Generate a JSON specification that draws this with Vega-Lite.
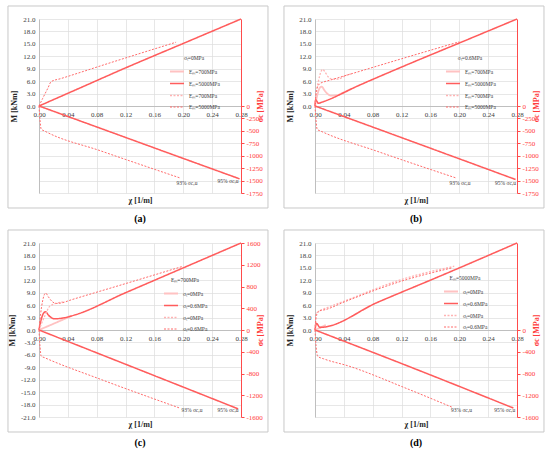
{
  "$schema": "https://vega.github.io/schema/vega-lite/v6.json",
  "background": "white",
  "padding": {"left": 7, "top": 5, "right": 0, "bottom": 0},
  "config": {
    "font": "Liberation Serif",
    "view": {"stroke": null},
    "line": {"interpolate": "monotone"},
    "axis": {"labelFont": "Liberation Serif", "titleFont": "Liberation Serif", "labelFontSize": 7, "titleFontSize": 8, "labelColor": "#404040", "titleColor": "#262626", "gridColor": "#dcdcdc", "gridWidth": 0.7, "domainColor": "#bfbfbf", "labelOverlap": false, "labelFlush": false, "tickCount": 60},
    "legend": {"orient": "none", "symbolType": "stroke", "symbolSize": 196, "labelFontSize": 5.5, "titleFontSize": 5.5, "titleFontWeight": "normal", "labelColor": "#404040", "titleColor": "#404040", "rowPadding": -4, "titlePadding": 2, "labelOffset": 4, "titleAnchor": "middle"},
    "title": {"font": "Liberation Serif", "fontSize": 10, "fontWeight": "bold", "color": "#000000", "orient": "bottom", "offset": 6}
  },
  "columns": 2,
  "spacing": {"row": 4, "column": 14},
  "resolve": {"scale": {"color": "independent", "strokeDash": "independent", "strokeWidth": "independent"}, "legend": {"color": "independent", "strokeDash": "independent", "strokeWidth": "independent"}},
  "concat": [
    {
      "width": 202, "height": 174,
      "title": {"text": "(a)"},
      "data": {"values": [
        {"k": "M", "s": "2", "x": 0, "v": 0}, {"k": "M", "s": "2", "x": 0.06, "v": 4.6}, {"k": "M", "s": "2", "x": 0.12, "v": 9.2}, {"k": "M", "s": "2", "x": 0.2, "v": 15.1}, {"k": "M", "s": "2", "x": 0.28, "v": 21},
        {"k": "M", "s": "4", "x": 0, "v": 0}, {"k": "M", "s": "4", "x": 0.005, "v": 1.8}, {"k": "M", "s": "4", "x": 0.012, "v": 4.2}, {"k": "M", "s": "4", "x": 0.017, "v": 5.9}, {"k": "M", "s": "4", "x": 0.03, "v": 6.6}, {"k": "M", "s": "4", "x": 0.1, "v": 10.5}, {"k": "M", "s": "4", "x": 0.19, "v": 15.4},
        {"k": "S", "s": "2", "x": 0, "v": 0}, {"k": "S", "s": "2", "x": 0.1, "v": -527}, {"k": "S", "s": "2", "x": 0.2, "v": -1055}, {"k": "S", "s": "2", "x": 0.278, "v": -1465},
        {"k": "S", "s": "4", "x": 0, "v": 0}, {"k": "S", "s": "4", "x": 0.0015, "v": -300}, {"k": "S", "s": "4", "x": 0.003, "v": -465}, {"k": "S", "s": "4", "x": 0.008, "v": -505}, {"k": "S", "s": "4", "x": 0.086, "v": -905}, {"k": "S", "s": "4", "x": 0.195, "v": -1445},
        {"k": "T", "x": 0.205, "v": -1545, "t": "93% σc,u"}, {"k": "T", "x": 0.262, "v": -1500, "t": "95% σc,u"}
      ]},
      "layer": [
        {
          "layer": [
            {
              "data": {"values": [{}]},
              "mark": {"type": "rect", "fill": null, "stroke": "#c8c8c8", "strokeWidth": 1},
              "encoding": {
                "x": {"datum": -0.043, "type": "quantitative", "title": "χ [1/m]"}, "x2": {"datum": 0.3174},
                "y": {"datum": 24.14, "type": "quantitative", "title": "M [kNm]"}, "y2": {"datum": -24.62}
              }
            },
            {
              "transform": [{"filter": "datum.k == 'M'"}],
              "mark": "line",
              "encoding": {
                "x": {"field": "x", "type": "quantitative", "scale": {"domain": [0, 0.28], "nice": false, "zero": false}, "axis": {"values": [0, 0.04, 0.08, 0.12, 0.16, 0.2, 0.24, 0.28], "tickCount": 60, "format": ".2f", "labelOverlap": false, "labelFlush": false, "offset": -87, "grid": true, "ticks": false, "labelPadding": 4, "title": "χ [1/m]", "titleFontWeight": "bold", "titleY": 90}},
                "y": {"field": "v", "type": "quantitative", "scale": {"domain": [-21, 21], "nice": false, "zero": false}, "axis": {"orient": "left", "values": [-21, -18, -15, -12, -9, -6, -3, 0, 3, 6, 9, 12, 15, 18, 21], "tickCount": 60, "labelExpr": "datum.value < 0 ? '' : format(datum.value, '.1f')", "labelOverlap": false, "grid": true, "ticks": false, "labelPadding": 4, "title": "M [kNm]", "titleFontWeight": "bold", "titlePadding": 4}},
                "color": {"field": "s", "type": "nominal", "scale": {"domain": ["1", "2", "3", "4"], "range": ["#ffc2c2", "#ff5c5c", "#ffb3b3", "#ff6b6b"]}, "legend": {"title": "σₜ=0MPa", "legendX": 130, "legendY": 37, "labelExpr": "datum.value == '1' || datum.value == '3' ? 'Eₘ=700MPa' : 'Eₘ=5000MPa'"}},
                "strokeDash": {"field": "s", "type": "nominal", "scale": {"domain": ["1", "2", "3", "4"], "range": [[1, 0], [1, 0], [2, 1.5], [2, 1.5]]}},
                "strokeWidth": {"field": "s", "type": "nominal", "scale": {"domain": ["1", "2", "3", "4"], "range": [1.8, 1, 0.8, 1]}}
              }
            }
          ]
        },
        {
          "layer": [
            {
              "transform": [{"filter": "datum.k == 'S'"}],
              "mark": "line",
              "encoding": {
                "x": {"field": "x", "type": "quantitative", "title": "χ [1/m]"},
                "y": {"field": "v", "type": "quantitative", "scale": {"domain": [-1750, 1750], "nice": false, "zero": false}, "axis": {"orient": "right", "values": [-1750, -1500, -1250, -1000, -750, -500, -250, 0], "tickCount": 60, "labelExpr": "replace(format(datum.value, 'd'), '−', '-')", "labelOverlap": false, "grid": false, "domainColor": "#ff4b4b", "tickColor": "#ff4b4b", "tickSize": 3, "labelColor": "#ff3b3b", "labelPadding": 2, "title": "σc [MPa]", "titleColor": "#ff3b3b", "titleFontWeight": "bold", "titleAngle": 270, "titlePadding": 2}},
                "color": {"field": "s", "type": "nominal", "scale": {"domain": ["1", "2", "3", "4"], "range": ["#ffc2c2", "#ff5c5c", "#ffb3b3", "#ff6b6b"]}},
                "strokeDash": {"field": "s", "type": "nominal", "scale": {"domain": ["1", "2", "3", "4"], "range": [[1, 0], [1, 0], [2, 1.5], [2, 1.5]]}},
                "strokeWidth": {"field": "s", "type": "nominal", "scale": {"domain": ["1", "2", "3", "4"], "range": [1.8, 1, 0.8, 1]}}
              }
            },
            {
              "transform": [{"filter": "datum.k == 'T'"}],
              "mark": {"type": "text", "fontSize": 5.5, "color": "#404040", "align": "center", "baseline": "middle"},
              "encoding": {
                "x": {"field": "x", "type": "quantitative", "title": "χ [1/m]"},
                "y": {"field": "v", "type": "quantitative", "title": "σc [MPa]"},
                "text": {"field": "t"}
              }
            }
          ]
        }
      ],
      "resolve": {"scale": {"y": "independent"}}
    },
    {
      "width": 202, "height": 174,
      "title": {"text": "(b)"},
      "data": {"values": [
        {"k": "M", "s": "1", "x": 0, "v": 0}, {"k": "M", "s": "1", "x": 0.003, "v": 2.5}, {"k": "M", "s": "1", "x": 0.006, "v": 4.2}, {"k": "M", "s": "1", "x": 0.0093, "v": 4.7}, {"k": "M", "s": "1", "x": 0.013, "v": 3.8}, {"k": "M", "s": "1", "x": 0.017, "v": 3.0}, {"k": "M", "s": "1", "x": 0.022, "v": 2.5}, {"k": "M", "s": "1", "x": 0.03, "v": 2.6}, {"k": "M", "s": "1", "x": 0.04, "v": 3.3}, {"k": "M", "s": "1", "x": 0.05, "v": 4.1},
        {"k": "M", "s": "2", "x": 0, "v": 0}, {"k": "M", "s": "2", "x": 0.001, "v": 1.5}, {"k": "M", "s": "2", "x": 0.0025, "v": 1.2}, {"k": "M", "s": "2", "x": 0.0046, "v": 0.65}, {"k": "M", "s": "2", "x": 0.01, "v": 0.95}, {"k": "M", "s": "2", "x": 0.06, "v": 4.9}, {"k": "M", "s": "2", "x": 0.12, "v": 9.4}, {"k": "M", "s": "2", "x": 0.2, "v": 15.2}, {"k": "M", "s": "2", "x": 0.28, "v": 21},
        {"k": "M", "s": "3", "x": 0, "v": 0}, {"k": "M", "s": "3", "x": 0.002, "v": 3.2}, {"k": "M", "s": "3", "x": 0.005, "v": 6.2}, {"k": "M", "s": "3", "x": 0.0105, "v": 8.8}, {"k": "M", "s": "3", "x": 0.014, "v": 8.2}, {"k": "M", "s": "3", "x": 0.018, "v": 7.1}, {"k": "M", "s": "3", "x": 0.024, "v": 6.5}, {"k": "M", "s": "3", "x": 0.032, "v": 6.5}, {"k": "M", "s": "3", "x": 0.042, "v": 7.3}, {"k": "M", "s": "3", "x": 0.05, "v": 7.75},
        {"k": "M", "s": "4", "x": 0, "v": 0}, {"k": "M", "s": "4", "x": 0.002, "v": 3.8}, {"k": "M", "s": "4", "x": 0.006, "v": 5.3}, {"k": "M", "s": "4", "x": 0.012, "v": 5.8}, {"k": "M", "s": "4", "x": 0.02, "v": 6.2}, {"k": "M", "s": "4", "x": 0.05, "v": 7.75}, {"k": "M", "s": "4", "x": 0.12, "v": 11.4}, {"k": "M", "s": "4", "x": 0.2, "v": 15.5},
        {"k": "S", "s": "2", "x": 0, "v": 0}, {"k": "S", "s": "2", "x": 0.1, "v": -530}, {"k": "S", "s": "2", "x": 0.2, "v": -1062}, {"k": "S", "s": "2", "x": 0.278, "v": -1478},
        {"k": "S", "s": "4", "x": 0, "v": 0}, {"k": "S", "s": "4", "x": 0.0015, "v": -300}, {"k": "S", "s": "4", "x": 0.003, "v": -470}, {"k": "S", "s": "4", "x": 0.008, "v": -505}, {"k": "S", "s": "4", "x": 0.086, "v": -910}, {"k": "S", "s": "4", "x": 0.196, "v": -1450},
        {"k": "T", "x": 0.201, "v": -1545, "t": "93% σc,u"}, {"k": "T", "x": 0.264, "v": -1555, "t": "95% σc,u"}
      ]},
      "layer": [
        {
          "layer": [
            {
              "data": {"values": [{}]},
              "mark": {"type": "rect", "fill": null, "stroke": "#c8c8c8", "strokeWidth": 1},
              "encoding": {
                "x": {"datum": -0.043, "type": "quantitative", "title": "χ [1/m]"}, "x2": {"datum": 0.3174},
                "y": {"datum": 24.14, "type": "quantitative", "title": "M [kNm]"}, "y2": {"datum": -24.62}
              }
            },
            {
              "transform": [{"filter": "datum.k == 'M'"}],
              "mark": "line",
              "encoding": {
                "x": {"field": "x", "type": "quantitative", "scale": {"domain": [0, 0.28], "nice": false, "zero": false}, "axis": {"values": [0, 0.04, 0.08, 0.12, 0.16, 0.2, 0.24, 0.28], "tickCount": 60, "format": ".2f", "labelOverlap": false, "labelFlush": false, "offset": -87, "grid": true, "ticks": false, "labelPadding": 4, "title": "χ [1/m]", "titleFontWeight": "bold", "titleY": 90}},
                "y": {"field": "v", "type": "quantitative", "scale": {"domain": [-21, 21], "nice": false, "zero": false}, "axis": {"orient": "left", "values": [-21, -18, -15, -12, -9, -6, -3, 0, 3, 6, 9, 12, 15, 18, 21], "tickCount": 60, "labelExpr": "datum.value < 0 ? '' : format(datum.value, '.1f')", "labelOverlap": false, "grid": true, "ticks": false, "labelPadding": 4, "title": "M [kNm]", "titleFontWeight": "bold", "titlePadding": 4}},
                "color": {"field": "s", "type": "nominal", "scale": {"domain": ["1", "2", "3", "4"], "range": ["#ffc2c2", "#ff5c5c", "#ffb3b3", "#ff6b6b"]}, "legend": {"title": "σₜ=0.6MPa", "legendX": 130, "legendY": 37, "labelExpr": "datum.value == '1' || datum.value == '3' ? 'Eₘ=700MPa' : 'Eₘ=5000MPa'"}},
                "strokeDash": {"field": "s", "type": "nominal", "scale": {"domain": ["1", "2", "3", "4"], "range": [[1, 0], [1, 0], [2, 1.5], [2, 1.5]]}},
                "strokeWidth": {"field": "s", "type": "nominal", "scale": {"domain": ["1", "2", "3", "4"], "range": [1.8, 1, 0.8, 1]}}
              }
            }
          ]
        },
        {
          "layer": [
            {
              "transform": [{"filter": "datum.k == 'S'"}],
              "mark": "line",
              "encoding": {
                "x": {"field": "x", "type": "quantitative", "title": "χ [1/m]"},
                "y": {"field": "v", "type": "quantitative", "scale": {"domain": [-1750, 1750], "nice": false, "zero": false}, "axis": {"orient": "right", "values": [-1750, -1500, -1250, -1000, -750, -500, -250, 0], "tickCount": 60, "labelExpr": "replace(format(datum.value, 'd'), '−', '-')", "labelOverlap": false, "grid": false, "domainColor": "#ff4b4b", "tickColor": "#ff4b4b", "tickSize": 3, "labelColor": "#ff3b3b", "labelPadding": 2, "title": "σc [MPa]", "titleColor": "#ff3b3b", "titleFontWeight": "bold", "titleAngle": 270, "titlePadding": 2}},
                "color": {"field": "s", "type": "nominal", "scale": {"domain": ["1", "2", "3", "4"], "range": ["#ffc2c2", "#ff5c5c", "#ffb3b3", "#ff6b6b"]}},
                "strokeDash": {"field": "s", "type": "nominal", "scale": {"domain": ["1", "2", "3", "4"], "range": [[1, 0], [1, 0], [2, 1.5], [2, 1.5]]}},
                "strokeWidth": {"field": "s", "type": "nominal", "scale": {"domain": ["1", "2", "3", "4"], "range": [1.8, 1, 0.8, 1]}}
              }
            },
            {
              "transform": [{"filter": "datum.k == 'T'"}],
              "mark": {"type": "text", "fontSize": 5.5, "color": "#404040", "align": "center", "baseline": "middle"},
              "encoding": {
                "x": {"field": "x", "type": "quantitative", "title": "χ [1/m]"},
                "y": {"field": "v", "type": "quantitative", "title": "σc [MPa]"},
                "text": {"field": "t"}
              }
            }
          ]
        }
      ],
      "resolve": {"scale": {"y": "independent"}}
    },
    {
      "width": 202, "height": 174,
      "title": {"text": "(c)"},
      "data": {"values": [
        {"k": "M", "s": "1", "x": 0, "v": 0}, {"k": "M", "s": "1", "x": 0.02, "v": 1.5}, {"k": "M", "s": "1", "x": 0.045, "v": 3.4},
        {"k": "M", "s": "2", "x": 0, "v": 0}, {"k": "M", "s": "2", "x": 0.003, "v": 2.5}, {"k": "M", "s": "2", "x": 0.0065, "v": 4.1}, {"k": "M", "s": "2", "x": 0.0092, "v": 4.4}, {"k": "M", "s": "2", "x": 0.013, "v": 3.6}, {"k": "M", "s": "2", "x": 0.017, "v": 3.0}, {"k": "M", "s": "2", "x": 0.021, "v": 2.7}, {"k": "M", "s": "2", "x": 0.03, "v": 2.8}, {"k": "M", "s": "2", "x": 0.045, "v": 3.4}, {"k": "M", "s": "2", "x": 0.12, "v": 9.0}, {"k": "M", "s": "2", "x": 0.2, "v": 15.0}, {"k": "M", "s": "2", "x": 0.28, "v": 21},
        {"k": "M", "s": "3", "x": 0, "v": 0}, {"k": "M", "s": "3", "x": 0.008, "v": 3.4}, {"k": "M", "s": "3", "x": 0.016, "v": 5.9}, {"k": "M", "s": "3", "x": 0.035, "v": 6.8},
        {"k": "M", "s": "4", "x": 0, "v": 0}, {"k": "M", "s": "4", "x": 0.002, "v": 3.5}, {"k": "M", "s": "4", "x": 0.005, "v": 7.0}, {"k": "M", "s": "4", "x": 0.0092, "v": 8.9}, {"k": "M", "s": "4", "x": 0.013, "v": 8.0}, {"k": "M", "s": "4", "x": 0.018, "v": 6.9}, {"k": "M", "s": "4", "x": 0.024, "v": 6.4}, {"k": "M", "s": "4", "x": 0.03, "v": 6.5}, {"k": "M", "s": "4", "x": 0.045, "v": 7.3}, {"k": "M", "s": "4", "x": 0.12, "v": 11.2}, {"k": "M", "s": "4", "x": 0.198, "v": 15.3},
        {"k": "S", "s": "2", "x": 0, "v": 0}, {"k": "S", "s": "2", "x": 0.1, "v": -525}, {"k": "S", "s": "2", "x": 0.2, "v": -1050}, {"k": "S", "s": "2", "x": 0.276, "v": -1450},
        {"k": "S", "s": "4", "x": 0, "v": 0}, {"k": "S", "s": "4", "x": 0.0015, "v": -320}, {"k": "S", "s": "4", "x": 0.003, "v": -480}, {"k": "S", "s": "4", "x": 0.008, "v": -510}, {"k": "S", "s": "4", "x": 0.086, "v": -910}, {"k": "S", "s": "4", "x": 0.196, "v": -1440},
        {"k": "T", "x": 0.212, "v": -1480, "t": "93% σc,u"}, {"k": "T", "x": 0.262, "v": -1468, "t": "95% σc,u"}
      ]},
      "layer": [
        {
          "layer": [
            {
              "data": {"values": [{}]},
              "mark": {"type": "rect", "fill": null, "stroke": "#c8c8c8", "strokeWidth": 1},
              "encoding": {
                "x": {"datum": -0.043, "type": "quantitative", "title": "χ [1/m]"}, "x2": {"datum": 0.3174},
                "y": {"datum": 24.14, "type": "quantitative", "title": "M [kNm]"}, "y2": {"datum": -24.62}
              }
            },
            {
              "transform": [{"filter": "datum.k == 'M'"}],
              "mark": "line",
              "encoding": {
                "x": {"field": "x", "type": "quantitative", "scale": {"domain": [0, 0.28], "nice": false, "zero": false}, "axis": {"values": [0, 0.04, 0.08, 0.12, 0.16, 0.2, 0.24, 0.28], "tickCount": 60, "format": ".2f", "labelOverlap": false, "labelFlush": false, "offset": -87, "grid": true, "ticks": false, "labelPadding": 4, "title": "χ [1/m]", "titleFontWeight": "bold", "titleY": 90}},
                "y": {"field": "v", "type": "quantitative", "scale": {"domain": [-21, 21], "nice": false, "zero": false}, "axis": {"orient": "left", "values": [-21, -18, -15, -12, -9, -6, -3, 0, 3, 6, 9, 12, 15, 18, 21], "tickCount": 60, "labelExpr": "replace(format(datum.value, '.1f'), '−', '-')", "labelOverlap": false, "grid": true, "ticks": false, "labelPadding": 4, "title": "M [kNm]", "titleFontWeight": "bold", "titlePadding": 4}},
                "color": {"field": "s", "type": "nominal", "scale": {"domain": ["1", "2", "3", "4"], "range": ["#ffc2c2", "#ff5c5c", "#ffb3b3", "#ff6b6b"]}, "legend": {"title": "Eₘ=700MPa", "legendX": 124, "legendY": 35, "labelExpr": "datum.value == '1' || datum.value == '3' ? 'σₜ=0MPa' : 'σₜ=0.6MPa'"}},
                "strokeDash": {"field": "s", "type": "nominal", "scale": {"domain": ["1", "2", "3", "4"], "range": [[1, 0], [1, 0], [2, 1.5], [2, 1.5]]}},
                "strokeWidth": {"field": "s", "type": "nominal", "scale": {"domain": ["1", "2", "3", "4"], "range": [1.8, 1, 0.8, 1]}}
              }
            }
          ]
        },
        {
          "layer": [
            {
              "transform": [{"filter": "datum.k == 'S'"}],
              "mark": "line",
              "encoding": {
                "x": {"field": "x", "type": "quantitative", "title": "χ [1/m]"},
                "y": {"field": "v", "type": "quantitative", "scale": {"domain": [-1600, 1600], "nice": false, "zero": false}, "axis": {"orient": "right", "values": [-1600, -1200, -800, -400, 0, 400, 800, 1200, 1600], "tickCount": 60, "labelExpr": "replace(format(datum.value, 'd'), '−', '-')", "labelOverlap": false, "grid": false, "domainColor": "#ff4b4b", "tickColor": "#ff4b4b", "tickSize": 3, "labelColor": "#ff3b3b", "labelPadding": 2, "title": "σc [MPa]", "titleColor": "#ff3b3b", "titleFontWeight": "bold", "titleAngle": 270, "titlePadding": 2}},
                "color": {"field": "s", "type": "nominal", "scale": {"domain": ["1", "2", "3", "4"], "range": ["#ffc2c2", "#ff5c5c", "#ffb3b3", "#ff6b6b"]}},
                "strokeDash": {"field": "s", "type": "nominal", "scale": {"domain": ["1", "2", "3", "4"], "range": [[1, 0], [1, 0], [2, 1.5], [2, 1.5]]}},
                "strokeWidth": {"field": "s", "type": "nominal", "scale": {"domain": ["1", "2", "3", "4"], "range": [1.8, 1, 0.8, 1]}}
              }
            },
            {
              "transform": [{"filter": "datum.k == 'T'"}],
              "mark": {"type": "text", "fontSize": 5.5, "color": "#404040", "align": "center", "baseline": "middle"},
              "encoding": {
                "x": {"field": "x", "type": "quantitative", "title": "χ [1/m]"},
                "y": {"field": "v", "type": "quantitative", "title": "σc [MPa]"},
                "text": {"field": "t"}
              }
            }
          ]
        }
      ],
      "resolve": {"scale": {"y": "independent"}}
    },
    {
      "width": 202, "height": 174,
      "title": {"text": "(d)"},
      "data": {"values": [
        {"k": "M", "s": "1", "x": 0, "v": 0}, {"k": "M", "s": "1", "x": 0.015, "v": 1.2},
        {"k": "M", "s": "2", "x": 0, "v": 0}, {"k": "M", "s": "2", "x": 0.002, "v": 1.6}, {"k": "M", "s": "2", "x": 0.0069, "v": 0.63}, {"k": "M", "s": "2", "x": 0.087, "v": 6.7}, {"k": "M", "s": "2", "x": 0.18, "v": 13.5}, {"k": "M", "s": "2", "x": 0.28, "v": 21},
        {"k": "M", "s": "3", "x": 0, "v": 0}, {"k": "M", "s": "3", "x": 0.002, "v": 3.5}, {"k": "M", "s": "3", "x": 0.006, "v": 4.6}, {"k": "M", "s": "3", "x": 0.014, "v": 5.2}, {"k": "M", "s": "3", "x": 0.041, "v": 7.0}, {"k": "M", "s": "3", "x": 0.12, "v": 12.2}, {"k": "M", "s": "3", "x": 0.193, "v": 15.4},
        {"k": "M", "s": "4", "x": 0, "v": 0}, {"k": "M", "s": "4", "x": 0.002, "v": 4.0}, {"k": "M", "s": "4", "x": 0.006, "v": 4.6}, {"k": "M", "s": "4", "x": 0.014, "v": 4.9}, {"k": "M", "s": "4", "x": 0.041, "v": 6.8}, {"k": "M", "s": "4", "x": 0.12, "v": 11.8}, {"k": "M", "s": "4", "x": 0.19, "v": 15.0},
        {"k": "S", "s": "2", "x": 0, "v": 0}, {"k": "S", "s": "2", "x": 0.124, "v": -638}, {"k": "S", "s": "2", "x": 0.275, "v": -1435},
        {"k": "S", "s": "4", "x": 0, "v": 0}, {"k": "S", "s": "4", "x": 0.0015, "v": -300}, {"k": "S", "s": "4", "x": 0.004, "v": -487}, {"k": "S", "s": "4", "x": 0.012, "v": -530}, {"k": "S", "s": "4", "x": 0.046, "v": -660}, {"k": "S", "s": "4", "x": 0.124, "v": -1060}, {"k": "S", "s": "4", "x": 0.19, "v": -1420},
        {"k": "T", "x": 0.203, "v": -1480, "t": "93% σc,u"}, {"k": "T", "x": 0.263, "v": -1470, "t": "95% σc,u"}
      ]},
      "layer": [
        {
          "layer": [
            {
              "data": {"values": [{}]},
              "mark": {"type": "rect", "fill": null, "stroke": "#c8c8c8", "strokeWidth": 1},
              "encoding": {
                "x": {"datum": -0.043, "type": "quantitative", "title": "χ [1/m]"}, "x2": {"datum": 0.3174},
                "y": {"datum": 24.14, "type": "quantitative", "title": "M [kNm]"}, "y2": {"datum": -24.62}
              }
            },
            {
              "transform": [{"filter": "datum.k == 'M'"}],
              "mark": "line",
              "encoding": {
                "x": {"field": "x", "type": "quantitative", "scale": {"domain": [0, 0.28], "nice": false, "zero": false}, "axis": {"values": [0, 0.04, 0.08, 0.12, 0.16, 0.2, 0.24, 0.28], "tickCount": 60, "format": ".2f", "labelOverlap": false, "labelFlush": false, "offset": -87, "grid": true, "ticks": false, "labelPadding": 4, "title": "χ [1/m]", "titleFontWeight": "bold", "titleY": 90}},
                "y": {"field": "v", "type": "quantitative", "scale": {"domain": [-21, 21], "nice": false, "zero": false}, "axis": {"orient": "left", "values": [-21, -18, -15, -12, -9, -6, -3, 0, 3, 6, 9, 12, 15, 18, 21], "tickCount": 60, "labelExpr": "datum.value < 0 ? '' : format(datum.value, '.1f')", "labelOverlap": false, "grid": true, "ticks": false, "labelPadding": 4, "title": "M [kNm]", "titleFontWeight": "bold", "titlePadding": 4}},
                "color": {"field": "s", "type": "nominal", "scale": {"domain": ["1", "2", "3", "4"], "range": ["#ffc2c2", "#ff5c5c", "#ffb3b3", "#ff6b6b"]}, "legend": {"title": "Eₘ=5000MPa", "legendX": 128, "legendY": 33, "labelExpr": "datum.value == '1' || datum.value == '3' ? 'σₜ=0MPa' : 'σₜ=0.6MPa'"}},
                "strokeDash": {"field": "s", "type": "nominal", "scale": {"domain": ["1", "2", "3", "4"], "range": [[1, 0], [1, 0], [2, 1.5], [2, 1.5]]}},
                "strokeWidth": {"field": "s", "type": "nominal", "scale": {"domain": ["1", "2", "3", "4"], "range": [1.8, 1, 0.8, 1]}}
              }
            }
          ]
        },
        {
          "layer": [
            {
              "transform": [{"filter": "datum.k == 'S'"}],
              "mark": "line",
              "encoding": {
                "x": {"field": "x", "type": "quantitative", "title": "χ [1/m]"},
                "y": {"field": "v", "type": "quantitative", "scale": {"domain": [-1600, 1600], "nice": false, "zero": false}, "axis": {"orient": "right", "values": [-1600, -1200, -800, -400, 0], "tickCount": 60, "labelExpr": "replace(format(datum.value, 'd'), '−', '-')", "labelOverlap": false, "grid": false, "domainColor": "#ff4b4b", "tickColor": "#ff4b4b", "tickSize": 3, "labelColor": "#ff3b3b", "labelPadding": 2, "title": "σc [MPa]", "titleColor": "#ff3b3b", "titleFontWeight": "bold", "titleAngle": 270, "titlePadding": 2}},
                "color": {"field": "s", "type": "nominal", "scale": {"domain": ["1", "2", "3", "4"], "range": ["#ffc2c2", "#ff5c5c", "#ffb3b3", "#ff6b6b"]}},
                "strokeDash": {"field": "s", "type": "nominal", "scale": {"domain": ["1", "2", "3", "4"], "range": [[1, 0], [1, 0], [2, 1.5], [2, 1.5]]}},
                "strokeWidth": {"field": "s", "type": "nominal", "scale": {"domain": ["1", "2", "3", "4"], "range": [1.8, 1, 0.8, 1]}}
              }
            },
            {
              "transform": [{"filter": "datum.k == 'T'"}],
              "mark": {"type": "text", "fontSize": 5.5, "color": "#404040", "align": "center", "baseline": "middle"},
              "encoding": {
                "x": {"field": "x", "type": "quantitative", "title": "χ [1/m]"},
                "y": {"field": "v", "type": "quantitative", "title": "σc [MPa]"},
                "text": {"field": "t"}
              }
            }
          ]
        }
      ],
      "resolve": {"scale": {"y": "independent"}}
    }
  ]
}
